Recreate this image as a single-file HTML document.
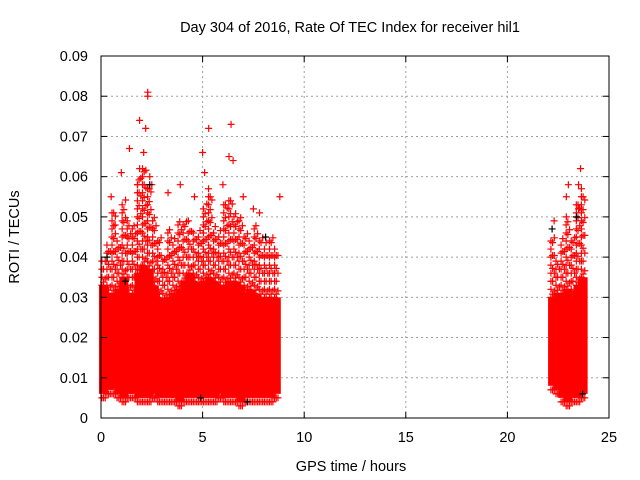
<!DOCTYPE html>
<html><head><meta charset="utf-8">
<style>
body{margin:0;background:#fff;}
svg{display:block;font-family:"Liberation Sans",sans-serif;}
</style></head>
<body>
<svg id="chart" width="640" height="480">
<text x="350" y="32" font-size="14.5" text-anchor="middle">Day 304 of 2016, Rate Of TEC Index for receiver hil1</text>
<text x="351" y="471" font-size="14.5" text-anchor="middle">GPS time / hours</text>
<text transform="translate(19,237) rotate(-90)" font-size="14.5" text-anchor="middle">ROTI / TECUs</text>
<g id="grid"></g><g id="marks"></g><g id="axes"></g>
</svg>
<script>
const xTicks=[0,5,10,15,20,25];
const yTicks=[0,0.01,0.02,0.03,0.04,0.05,0.06,0.07,0.08,0.09];
const yTickLabels=["0","0.01","0.02","0.03","0.04","0.05","0.06","0.07","0.08","0.09"];
const binStart=[0,0.25,0.5,0.75,1,1.25,1.5,1.75,2,2.25,2.5,2.75,3,3.25,3.5,3.75,4,4.25,4.5,4.75,5,5.25,5.5,5.75,6,6.25,6.5,6.75,7,7.25,7.5,7.75,8,8.25,8.5,22.1,22.35,22.6,22.85,23.1,23.35,23.6];
const binLo=[.006,.007,.007,.006,.005,.006,.006,.005,.005,.005,.006,.005,.005,.005,.005,.004,.005,.005,.005,.005,.005,.005,.005,.006,.005,.005,.005,.004,.005,.005,.005,.005,.005,.005,.006,.008,.007,.005,.004,.005,.005,.006];
const binDense=[.033,.031,.031,.032,.035,.031,.031,.036,.038,.037,.033,.030,.029,.030,.031,.032,.034,.036,.034,.033,.034,.035,.034,.033,.033,.034,.034,.033,.031,.032,.031,.030,.030,.030,.030,.030,.031,.031,.032,.030,.033,.035];
const binSparse=[.040,.044,.052,.045,.055,.050,.048,.060,.063,.058,.050,.045,.040,.048,.045,.050,.050,.048,.047,.047,.054,.058,.048,.047,.054,.056,.052,.050,.046,.045,.048,.046,.044,.045,.043,.045,.040,.045,.050,.045,.055,.058];
const binWidth=0.25;
const spikeT=[2.3,2.3,1.9,2.2,5.3,6.4,1.4,2.1,5.0,6.3,1.9,1.0,5.1,6.0,3.9,0.5,8.8,7.5,4.6,23.6,23.5,23.0,22.3,22.9,2.5,1.8,3.3,7.0,7.8,4.3,0.7,22.9,23.5,2.4,6.5];
const spikeV=[.081,.080,.074,.072,.072,.073,.067,.066,.066,.065,.062,.061,.061,.058,.058,.055,.055,.052,.055,.062,.058,.058,.049,.055,.058,.058,.056,.055,.051,.049,.048,.050,.052,.060,.064];
const blackT=[2.4,8.1,22.2,23.4,4.9,1.2,7.2,23.7,0.3];
const blackV=[.058,.045,.047,.050,.005,.034,.004,.006,.040];
const X=t=>101+t*(508/25);
const Y=v=>418-v*(362/0.09);
const NS="http://www.w3.org/2000/svg";
function mk(tag,attrs,parent){const e=document.createElementNS(NS,tag);for(const k in attrs)e.setAttribute(k,attrs[k]);parent.appendChild(e);return e;}
const grid=document.getElementById('grid'),marks=document.getElementById('marks'),axes=document.getElementById('axes');
xTicks.forEach((t,i)=>{
  if(i>0&&i<xTicks.length-1){const l=mk('line',{x1:X(t),x2:X(t),y1:56,y2:418,stroke:'#a0a0a0','stroke-dasharray':'2,3'},grid);
  
  }
  const tx=mk('text',{x:X(t),y:442,'font-size':'14.5','text-anchor':'middle'},axes);tx.textContent=t;
  
  
  mk('line',{x1:X(t),x2:X(t),y1:418,y2:412,stroke:'#000'},axes);
  mk('line',{x1:X(t),x2:X(t),y1:56,y2:62,stroke:'#000'},axes);
});
yTicks.forEach((v,i)=>{
  if(i>0&&i<yTicks.length-1){const l=mk('line',{x1:101,x2:609,y1:Y(v),y2:Y(v),stroke:'#a0a0a0','stroke-dasharray':'2,3'},grid);
  
  }
  const tx=mk('text',{x:88,y:Y(v)+5,'font-size':'14.5','text-anchor':'end'},axes);tx.textContent=yTickLabels[i];
  
  
  mk('line',{x1:101,x2:107,y1:Y(v),y2:Y(v),stroke:'#000'},axes);
  mk('line',{x1:609,x2:603,y1:Y(v),y2:Y(v),stroke:'#000'},axes);
});
const frame=mk('rect',{x:101,y:56,width:508,height:362,fill:'none',stroke:'#000'},axes);


function plus(t,v,col,name){
  const x=X(t),y=Y(v);
  const p=mk('path',{d:`M${x-3.5} ${y}H${x+3.5}M${x} ${y-3.5}V${y+3.5}`,stroke:col,'stroke-width':'1.2',fill:'none'},marks);
  
  
}
binStart.forEach((t,i)=>{
  const r=mk('rect',{x:X(t)-2,y:Y(binDense[i]),width:binWidth*508/25+4,height:Y(binLo[i])-Y(binDense[i]),fill:'#ff0000'},marks);
  
  
  for(let j=0;j<3;j++){
    const tt=t+binWidth*(j+0.5)/3;
    plus(tt,binLo[i]-0.001,'#ff0000','roti-point');
    for(let v=binDense[i]+0.0008*j;v<=binSparse[i];v+=0.002+0.0012*j){plus(tt,v,'#ff0000','roti-point');}
  }
});
spikeT.forEach((t,i)=>plus(t,spikeV[i],'#ff0000','roti-spike'));
blackT.forEach((t,i)=>plus(t,blackV[i],'#000','roti-point-black'));
</script>
</body></html>
